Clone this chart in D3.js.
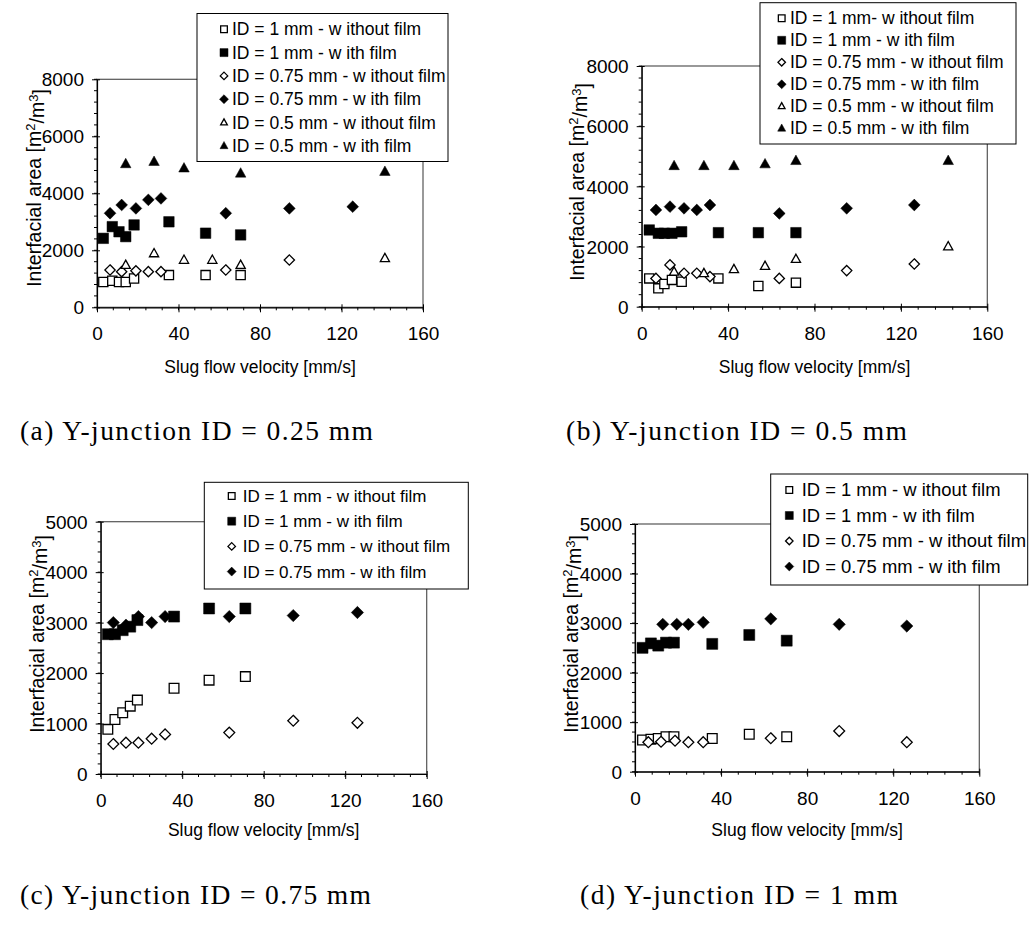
<!DOCTYPE html>
<html>
<head>
<meta charset="utf-8">
<script src="https://cdn.jsdelivr.net/npm/d3@7"></script>
<style>
  body { margin: 0; background: #fff; }
  svg { display: block; }
</style>
</head>
<body>
<svg id="fig" width="1029" height="927"></svg>
<script>
// ---- data ----
const xTickValues = [0, 40, 80, 120, 160];
const yTicksTop = [0, 2000, 4000, 6000, 8000];
const yTicksBottom = [0, 1000, 2000, 3000, 4000, 5000];

const legendLabels = [
    "ID = 1 mm - w ithout film",
    "ID = 1 mm - w ith film",
    "ID = 0.75 mm - w ithout film",
    "ID = 0.75 mm - w ith film",
    "ID = 0.5 mm - w ithout film",
    "ID = 0.5 mm - w ith film"
];
const legendLabelsB = [
    "ID = 1 mm- w ithout film",
    "ID = 1 mm - w ith film",
    "ID = 0.75 mm - w ithout film",
    "ID = 0.75 mm - w ith film",
    "ID = 0.5 mm - w ithout film",
    "ID = 0.5 mm - w ith film"
];
const captions = [
    "(a) Y-junction ID = 0.25 mm",
    "(b) Y-junction ID = 0.5 mm",
    "(c) Y-junction ID = 0.75 mm",
    "(d) Y-junction ID = 1 mm"
];

// panel (a): Y-junction 0.25 mm
const aVel1 = [3.1, 7.5, 10.8, 14.1, 18.2, 35.3, 53.3, 70.5];
const a1Without = [890, 930, 890, 890, 1010, 1130, 1130, 1130];
const a1With = [2420, 2830, 2650, 2480, 2890, 3000, 2600, 2540];
const aVel075 = [6.4, 12.1, 19.1, 25.2, 31.4, 63.2, 94.4, 125.5];
const aVel075b = [6.4, 12.1, 19.1, 25.2, 31.4, 63.2, 94.4];
const a075Without = [1310, 1250, 1280, 1250, 1250, 1310, 1660];
const a075With = [3300, 3590, 3470, 3770, 3820, 3300, 3470, 3530];
const aVel05 = [14.1, 28, 42.7, 56.6, 70.5, 141.3];
const aVel05b = [14.1, 28, 42.7, 70.5, 141.3];
const a05Without = [1480, 1890, 1660, 1660, 1480, 1720];
const a05With = [5030, 5110, 4880, 4700, 4760];

// panel (b): Y-junction 0.5 mm
const bVel1 = [3.5, 7.7, 10.5, 14, 18.5, 35.5, 54, 71.4];
const b1Without = [940, 610, 755, 890, 830, 940, 690, 800];
const b1With = [2550, 2440, 2440, 2440, 2490, 2460, 2460, 2460];
const bVel075 = [6.6, 13.1, 19.6, 25.5, 31.6, 63.7, 94.9, 126.2];
const b075Without = [940, 1390, 1110, 1110, 1000, 940, 1200, 1420];
const b075With = [3215, 3325, 3270, 3215, 3380, 3100, 3270, 3380];
const bVel05 = [15, 28.8, 42.7, 57.1, 71.4, 141.9];
const b05Without = [1160, 1110, 1240, 1350, 1580, 2000];
const b05With = [4680, 4680, 4680, 4740, 4850, 4850];

// panel (c): Y-junction 0.75 mm
const cVel1 = [3.5, 7, 10.8, 14.5, 18, 36, 53.2, 71];
const c1Without = [885, 1080, 1215, 1345, 1465, 1700, 1860, 1930];
const c1With = [2770, 2770, 2850, 2920, 3050, 3120, 3280, 3280];
const cVel075 = [6.2, 12.4, 18.5, 25, 31.6, 63.1, 94.5, 126];
const c075Without = [595, 620, 620, 700, 785, 820, 1055, 1015];
const c075With = [3000, 2950, 3120, 3000, 3120, 3120, 3140, 3200];

// panel (d): Y-junction 1 mm
const dVel1 = [3.5, 7.4, 10.8, 14.4, 18.1, 35.9, 53.1, 70.5];
const d1Without = [640, 655, 670, 705, 705, 670, 755, 705];
const d1With = [2500, 2590, 2545, 2605, 2605, 2580, 2760, 2645];
const dVel075 = [6.2, 12.1, 18.6, 24.8, 31.7, 63.1, 94.9, 126.3];
const dVel075b = [12.9, 19.4, 24.8, 31.7, 63.1, 94.9, 126.3];
const d075Without = [595, 605, 625, 595, 595, 675, 820, 595];
const d075With = [2975, 2975, 2975, 3015, 3085, 2975, 2940];

// ---- marker styles: order follows the legend ----
const markerStyles = [
    { shape: "square", filled: false },
    { shape: "square", filled: true },
    { shape: "diamond", filled: false },
    { shape: "diamond", filled: true },
    { shape: "triangle", filled: false },
    { shape: "triangle", filled: true }
];

function zip(xs, ys) {
    return xs.map((x, i) => ({ x: x, y: ys[i] }));
}

// ---- panel layout ----
const panels = [
    {
        plot: { left: 97, top: 79.3, right: 423, bottom: 307.3 },
        yMax: 8000, yTicks: yTicksTop, yMinor: 400,
        series: [zip(aVel1, a1Without), zip(aVel1, a1With), zip(aVel075b, a075Without),
                 zip(aVel075, a075With), zip(aVel05, a05Without), zip(aVel05b, a05With)],
        legend: { x: 197, y: 13.5, w: 251, h: 148, row0: 29.3, step: 23.3, mx: 224, tx: 232, fs: 17.5, labels: legendLabels },
        yTitle: { x: 34, y: 188 }, xTitleY: 373,
        caption: { x: 20, y: 440, w: 353, text: captions[0] },
        marker: 10.5
    },
    {
        plot: { left: 641.7, top: 66, right: 987.3, bottom: 306.7 },
        yMax: 8000, yTicks: yTicksTop, yMinor: 400,
        series: [zip(bVel1, b1Without), zip(bVel1, b1With), zip(bVel075, b075Without),
                 zip(bVel075, b075With), zip(bVel05, b05Without), zip(bVel05, b05With)],
        legend: { x: 760, y: 2.7, w: 256, h: 141.3, row0: 18.3, step: 22, mx: 781.7, tx: 790, fs: 17.5, labels: legendLabelsB },
        yTitle: { x: 577, y: 182 }, xTitleY: 373,
        caption: { x: 566, y: 440, w: 341, text: captions[1] },
        marker: 10.5
    },
    {
        plot: { left: 100.7, top: 521.7, right: 426.7, bottom: 774 },
        yMax: 5000, yTicks: yTicksBottom, yMinor: 200,
        series: [zip(cVel1, c1Without), zip(cVel1, c1With),
                 zip(cVel075, c075Without), zip(cVel075, c075With)],
        legend: { x: 204.3, y: 482.3, w: 264, h: 106.7, row0: 496, step: 25.2, mx: 231.7, tx: 242.7, fs: 17, labels: legendLabels.slice(0, 4) },
        yTitle: { x: 37, y: 634 }, xTitleY: 836,
        caption: { x: 20, y: 904, w: 351, text: captions[2] },
        marker: 11
    },
    {
        plot: { left: 635, top: 524, right: 979.3, bottom: 771.7 },
        yMax: 5000, yTicks: yTicksBottom, yMinor: 200,
        series: [zip(dVel1, d1Without), zip(dVel1, d1With),
                 zip(dVel075, d075Without), zip(dVel075b, d075With)],
        legend: { x: 770.7, y: 474, w: 257, h: 111, row0: 490, step: 25.5, mx: 789.3, tx: 801.7, fs: 18.4, labels: legendLabels.slice(0, 4) },
        yTitle: { x: 571, y: 634 }, xTitleY: 836,
        caption: { x: 580, y: 904, w: 318, text: captions[3] },
        marker: 11
    }
];

const svg = d3.select("#fig");
const SANS = "'Liberation Sans', Arial, sans-serif";

function markerPath(shape, s) {
    const h = s / 2;
    if (shape === "square") return `M${-h},${-h}H${h}V${h}H${-h}Z`;
    if (shape === "diamond") {
        const r = h * 1.12;  // diamonds read a little larger than squares
        return `M0,${-r}L${r},0L0,${r}L${-r},0Z`;
    }
    const t = s * 0.9;
    return `M0,${-t * 0.6}L${h},${t * 0.4}L${-h},${t * 0.4}Z`;
}

function drawMarker(g, style, size) {
    const open = !style.filled;
    return g.append("path")
        .attr("d", markerPath(style.shape, open ? size - 1.3 : size))
        .attr("fill", open ? "#fff" : "#000")
        .attr("stroke", "#000")
        .attr("stroke-width", open ? 1.3 : 0.5);
}

panels.forEach(p => {
    const g = svg.append("g");
    const x = d3.scaleLinear().domain([0, 160]).range([p.plot.left, p.plot.right]);
    const y = d3.scaleLinear().domain([0, p.yMax]).range([p.plot.bottom, p.plot.top]);

    // plot area frame (top / right)
    g.append("rect")
        .attr("x", p.plot.left).attr("y", p.plot.top)
        .attr("width", p.plot.right - p.plot.left)
        .attr("height", p.plot.bottom - p.plot.top)
        .attr("fill", "none").attr("stroke", "#555").attr("stroke-width", 1.2);

    // minor ticks
    d3.range(0, 160.01, 8).forEach(v => {
        g.append("line").attr("x1", x(v)).attr("x2", x(v))
            .attr("y1", p.plot.bottom).attr("y2", p.plot.bottom + 3)
            .attr("stroke", "#000");
    });
    d3.range(0, p.yMax + 0.01, p.yMinor).forEach(v => {
        g.append("line").attr("x1", p.plot.left - 3).attr("x2", p.plot.left)
            .attr("y1", y(v)).attr("y2", y(v))
            .attr("stroke", "#000");
    });

    // x axis
    const xAxis = d3.axisBottom(x).tickValues(xTickValues).tickSize(0).tickPadding(0);
    const xg = g.append("g").attr("transform", `translate(0,${p.plot.bottom})`).call(xAxis);
    xg.select(".domain").attr("stroke", "#000").attr("stroke-width", 1.2);
    xg.selectAll(".tick").append("line")
        .attr("y1", -3).attr("y2", 5).attr("stroke", "#000");
    xg.selectAll(".tick text")
        .attr("y", 33).attr("dy", null)
        .attr("font-family", SANS).attr("font-size", 19).attr("fill", "#000");

    // y axis
    const yAxis = d3.axisLeft(y).tickValues(p.yTicks).tickSize(0).tickPadding(0).tickFormat(d3.format("d"));
    const yg = g.append("g").attr("transform", `translate(${p.plot.left},0)`).call(yAxis);
    yg.select(".domain").attr("stroke", "#000").attr("stroke-width", 1.2);
    yg.selectAll(".tick").append("line")
        .attr("x1", -5).attr("x2", 3).attr("stroke", "#000");
    yg.selectAll(".tick text")
        .attr("x", -13).attr("dy", "0.35em")
        .attr("font-family", SANS).attr("font-size", 19).attr("fill", "#000");

    // data
    p.series.forEach((pts, si) => {
        const style = markerStyles[si];
        g.append("g").selectAll("path").data(pts).join("path")
            .attr("transform", d => `translate(${x(d.x)},${y(d.y)})`)
            .attr("d", markerPath(style.shape, style.filled ? p.marker : p.marker - 1.3))
            .attr("fill", style.filled ? "#000" : "#fff")
            .attr("stroke", "#000")
            .attr("stroke-width", style.filled ? 0.5 : 1.3);
    });

    // axis titles
    g.append("text")
        .attr("x", (p.plot.left + p.plot.right) / 2).attr("y", p.xTitleY)
        .attr("text-anchor", "middle")
        .attr("font-family", SANS).attr("font-size", 17.5)
        .text("Slug flow velocity [mm/s]");

    const yt = g.append("text")
        .attr("transform", `translate(${p.yTitle.x},${p.yTitle.y}) rotate(-90)`)
        .attr("text-anchor", "middle").attr("dy", "0.35em")
        .attr("font-family", SANS).attr("font-size", 19.5);
    yt.append("tspan").text("Interfacial area [m");
    yt.append("tspan").attr("dy", "-0.45em").attr("font-size", 13).text("2");
    yt.append("tspan").attr("dy", "0.45em").text("/m");
    yt.append("tspan").attr("dy", "-0.45em").attr("font-size", 13).text("3");
    yt.append("tspan").attr("dy", "0.45em").text("]");

    // legend
    const L = p.legend;
    g.append("rect")
        .attr("x", L.x).attr("y", L.y).attr("width", L.w).attr("height", L.h)
        .attr("fill", "#fff").attr("stroke", "#000").attr("stroke-width", 1);
    L.labels.forEach((lab, i) => {
        const cy = L.row0 + i * L.step;
        const mg = g.append("g").attr("transform", `translate(${L.mx},${cy})`);
        drawMarker(mg, markerStyles[i], 8);
        g.append("text")
            .attr("x", L.tx).attr("y", cy).attr("dy", "0.35em")
            .attr("font-family", SANS).attr("font-size", L.fs)
            .text(lab);
    });

    // caption
    g.append("text")
        .attr("x", p.caption.x).attr("y", p.caption.y)
        .attr("font-family", "'Liberation Serif', 'Times New Roman', serif")
        .attr("font-size", 27.5)
        .attr("textLength", p.caption.w).attr("lengthAdjust", "spacing")
        .text(p.caption.text);
});
</script>
</body>
</html>
